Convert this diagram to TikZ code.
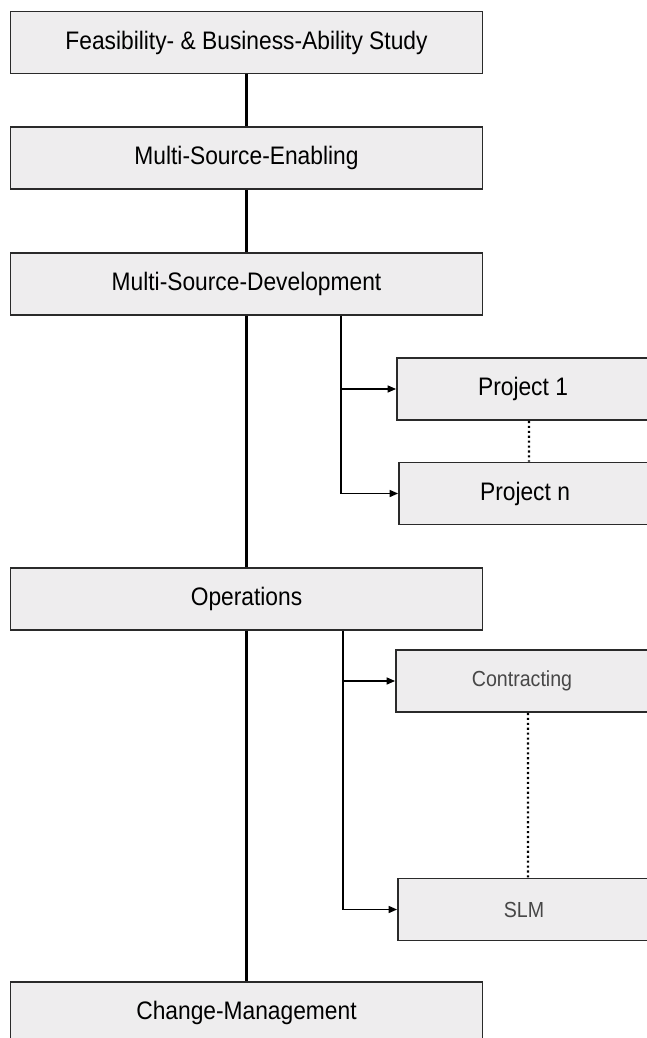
\documentclass[tikz,border=0pt]{standalone}
\usepackage{fontspec}
\setmainfont{Liberation Sans}[FakeStretch=0.9]
\usetikzlibrary{arrows.meta}

\definecolor{boxfill}{HTML}{EEEDEE}
\definecolor{boxline}{HTML}{2A2A2A}

\tikzset{
  phase/.style={draw=boxline,fill=boxfill,line width=1.3pt,inner sep=0pt,
    minimum width=11.8cm,minimum height=1.55cm,
    font=\fontsize{18}{21}\selectfont},
  sub/.style={draw=boxline,fill=boxfill,line width=1.3pt,inner sep=0pt,
    minimum width=6.3cm,minimum height=1.55cm,
    font=\fontsize{18}{21}\selectfont},
  subthin/.style={sub,text=black!72,font=\fontsize{15.5}{18}\selectfont},
  trunk/.style={line width=1.7pt},
  branch/.style={line width=1pt,-{Triangle[length=6pt,width=5pt]}},
  gap/.style={line width=1.5pt,dotted}
}

\begin{document}
\begin{tikzpicture}[x=0.025cm,y=-0.025cm]
\useasboundingbox (0,0) rectangle (646,1038);

% phases
\node[phase] (feas) at (246.5,42.5) {Feasibility- \& Business-Ability Study};
\node[phase] (enab) at (246.5,158) {Multi-Source-Enabling};
\node[phase] (dev) at (246.5,284) {Multi-Source-Development};
\node[phase] (ops) at (246.5,599) {Operations};
\node[phase] (chg) at (246.5,1013) {Change-Management};

% projects
\node[sub] (proj1) at (523,389) {Project 1};
\node[sub] (projn) at (525,493.5) {Project n};

% operations parts
\node[subthin] (contr) at (522,681) {Contracting};
\node[subthin] (slm) at (524,909.5) {SLM};

% main line
\draw[trunk] (feas) -- (enab);
\draw[trunk] (enab) -- (dev);
\draw[trunk] (dev) -- (ops);
\draw[trunk] (ops) -- (chg);

% branches
\draw[branch] ([xshift=2.36cm]dev.south) |- (proj1.west);
\draw[branch] ([xshift=2.36cm]dev.south) |- (projn.west);
\draw[branch] ([xshift=2.41cm]ops.south) |- (contr.west);
\draw[branch] ([xshift=2.41cm]ops.south) |- (slm.west);

\draw[gap] ([xshift=0.15cm]proj1.south) -- ([xshift=0.1cm]projn.north);
\draw[gap] ([xshift=0.15cm]contr.south) -- ([xshift=0.1cm]slm.north);
\end{tikzpicture}
\end{document}
